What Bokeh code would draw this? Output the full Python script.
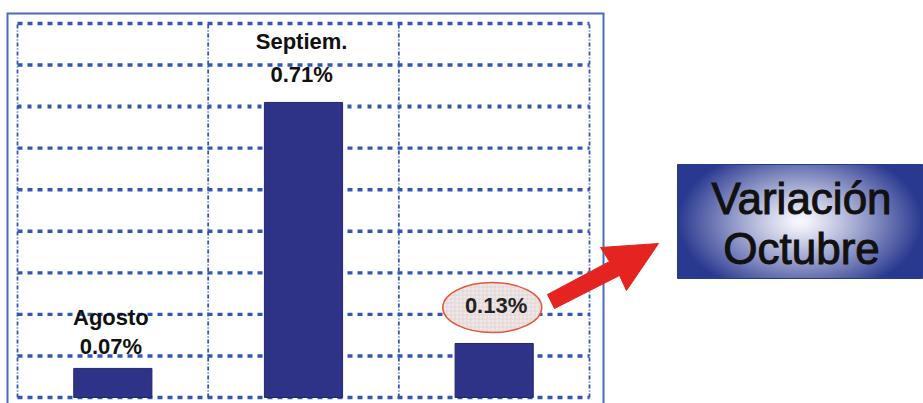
import numpy as np
from bokeh.plotting import figure
from bokeh.models import Range1d
from bokeh.core.properties import value
from bokeh.embed import file_html
from bokeh.resources import INLINE

# ---- data ----
categories = ["Agosto", "Septiem.", "Octubre"]
values = [0.07, 0.71, 0.13]
value_labels = ["0.07%", "0.71%", "0.13%"]
y_ticks = [0.0, 0.1, 0.2, 0.3, 0.4, 0.5, 0.6, 0.7, 0.8, 0.9]
callout_text = ["Variación", "Octubre"]

# ---- layout helpers (pixel placement of the drawing) ----
W, H = 923, 403
X0, SX = 17.0, 190.667      # pixel of x=0, pixels per category
Y0, SY = 397.0, 415.56      # pixel of y=0, pixels per unit of value


def X(px):
    return (px - X0) / SX


def Y(py):
    return (Y0 - py) / SY


FONT = value("Liberation Sans")
GRID = "#3357B2"
BAR = "#2E3388"
RED = "#E52421"

p = figure(width=W, height=H, output_backend="svg", toolbar_location=None,
           x_range=Range1d(X(0), X(W)), y_range=Range1d(Y(H), Y(0)),
           min_border=0, outline_line_color=None,
           background_fill_color="white", border_fill_color="white")
p.axis.visible = False
p.grid.visible = False

ncat = len(categories)
xc = [i + 0.5 for i in range(ncat)]

# outer solid frame
p.line(x=[X(7), X(7), X(603), X(603)], y=[Y(412), Y(13), Y(13), Y(412)],
       line_color="#4A6BC0", line_width=2, line_join="miter")

# horizontal dotted grid lines
for t in y_ticks:
    special = abs(t - 0.7) < 1e-9
    p.line(x=[0, ncat], y=[t, t], line_color=GRID,
           line_width=4 if special else 3.4,
           line_dash="4 6" if special else "5 5")

# vertical dash-dot dividers
for k in range(ncat + 1):
    p.line(x=[k, k], y=[0, y_ticks[-1]], line_color=GRID, line_width=1.8,
           line_dash="4 2 1 2")

# bars
p.vbar(x=xc, top=values, width=0.41, bottom=0, fill_color=BAR,
       line_color="#23286e", line_width=1)

# labels above first two bars
name_gap = [51, 61]
val_gap = [21.5, 28]
for i in range(2):
    p.text(x=[xc[i] - 0.01], y=[values[i] + name_gap[i] / SY], text=[categories[i]],
           text_font=FONT, text_font_style="bold", text_font_size="22px",
           text_align="center", text_baseline="middle", text_color="#111111")
    p.text(x=[xc[i] - 0.01], y=[values[i] + val_gap[i] / SY], text=[value_labels[i]],
           text_font=FONT, text_font_style="bold", text_font_size="22px",
           text_align="center", text_baseline="middle", text_color="#111111")

# highlighted value for the last bar
gap3 = 38
p.ellipse(x=[xc[2] - 0.01], y=[values[2] + (gap3 - 2) / SY], width=99 / SX, height=50 / SY,
          fill_color="#EFE7E7", line_color="#E8553A", line_width=1.5,
          hatch_pattern="+", hatch_color="#D9CDCD", hatch_scale=4, hatch_weight=0.6)
p.text(x=[xc[2] + 0.01], y=[values[2] + gap3 / SY], text=[value_labels[2]],
       text_font=FONT, text_font_style="bold", text_font_size="22px",
       text_align="center", text_baseline="middle", text_color="#222222")

# red arrow
ax = [547, 554, 619, 626, 658, 600, 609]
ay = [294, 308, 275, 290, 243, 247, 261]
p.patch(x=[X(v) for v in ax], y=[Y(v) for v in ay], fill_color=RED, line_color=RED,
        line_width=1)

# gradient callout box
bx0, bx1, by0, by1 = 677, 922, 164, 278
w, h = bx1 - bx0, by1 - by0
u = (np.arange(w) + 0.5 - w / 2) / (w / 2)
v = (np.arange(h) + 0.5 - h / 2) / (h / 2)
U, V = np.meshgrid(u, v)
t = np.clip(np.sqrt(U ** 2 + (V / 1.35) ** 2), 0, 1) ** 1.15
navy = np.array([42, 57, 144], dtype=float)
white = np.array([250, 250, 255], dtype=float)
img = np.empty((h, w), dtype=np.uint32)
view = img.view(dtype=np.uint8).reshape((h, w, 4))
for c in range(3):
    view[:, :, c] = (white[c] * (1 - t) + navy[c] * t).astype(np.uint8)
view[:, :, 3] = 255
p.image_rgba(image=[img], x=X(bx0), y=Y(by1), dw=X(bx1) - X(bx0), dh=Y(by0) - Y(by1))
p.quad(left=[X(bx0)], right=[X(bx1)], bottom=[Y(by1)], top=[Y(by0)],
       fill_color=None, line_color="#2A3A8E", line_width=1)

p.text(x=[X(801)] * 2, y=[Y(198), Y(248)], text=callout_text,
       text_font=FONT, text_font_size="44px", text_align="center",
       text_baseline="middle", text_color="#111111",
       text_outline_color="#111111")

open("out.html", "w").write(file_html(p, INLINE))
